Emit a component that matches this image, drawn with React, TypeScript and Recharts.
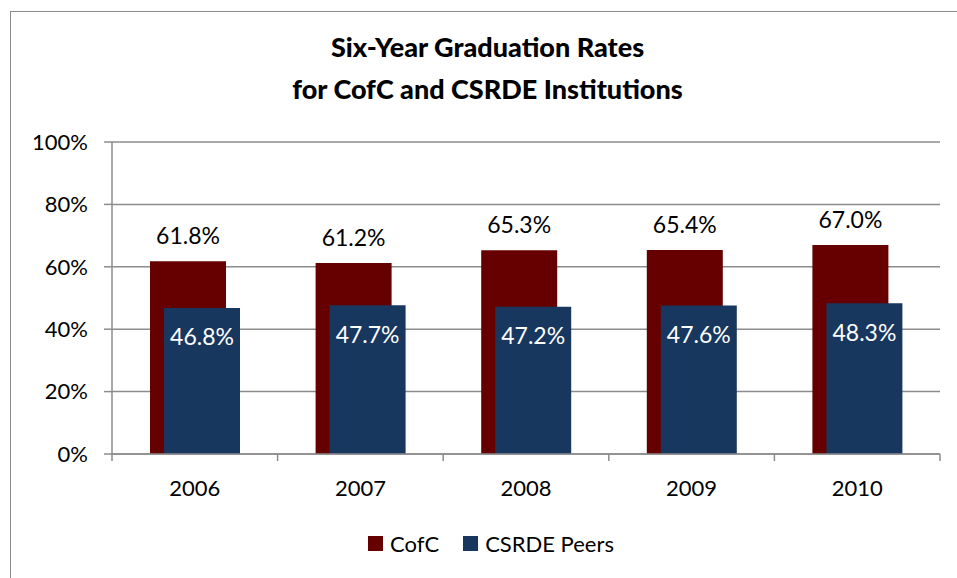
import { BarChart, Bar, XAxis, YAxis, CartesianGrid, Legend, LabelList } from "recharts"

const years = ["2006", "2007", "2008", "2009", "2010"]
const cofcRates = [61.8, 61.2, 65.3, 65.4, 67.0]
const peerRates = [46.8, 47.7, 47.2, 47.6, 48.3]
const yTicks = [0, 20, 40, 60, 80, 100]

const data = years.map((year, i) => ({ year, cofc: cofcRates[i], peers: peerRates[i] }))

const FONT = "Lato, 'Open Sans', sans-serif"
const RED = "#660000"
const BLUE = "#17375e"
const GRID = "#8c8c8c"

const W = 957
const H = 578
const margin = { top: 142, right: 17, left: 12, bottom: 10 }
const Y_WIDTH = 100
const plotWidth = W - margin.left - margin.right - Y_WIDTH
const band = plotWidth / years.length

// year label at the centre, tick marks at category edges (Excel style)
const YearTick = (props: any) => {
  const { x, y, payload, index } = props
  const left = x - band / 2
  const right = x + band / 2
  return (
    <g>
      <line x1={left} y1={y - 8} x2={left} y2={y - 1} stroke={GRID} strokeWidth={1.5} />
      {index === years.length - 1 && (
        <line x1={right} y1={y - 8} x2={right} y2={y - 1} stroke={GRID} strokeWidth={1.5} />
      )}
      <text x={x} y={y + 34} textAnchor="middle" fontSize={22} fill="#000" fontFamily={FONT}>
        {payload.value}
      </text>
    </g>
  )
}

const LegendContent = () => (
  <div
    style={{
      display: "flex",
      alignItems: "center",
      height: 50,
      paddingLeft: 356,
      fontFamily: FONT,
      fontSize: 22,
      color: "#000",
    }}
  >
    <span style={{ width: 15, height: 15, background: RED, display: "inline-block", marginRight: 7 }} />
    <span style={{ marginRight: 24 }}>CofC</span>
    <span style={{ width: 15, height: 15, background: BLUE, display: "inline-block", marginRight: 7 }} />
    <span>CSRDE Peers</span>
  </div>
)

export default function App() {
  return (
    <div
      style={{
        position: "absolute",
        left: 0,
        top: 0,
        width: W,
        height: H,
        background: "#fff",
        overflow: "hidden",
      }}
    >
      {/* chart frame */}
      <div
        style={{
          position: "absolute",
          left: 10,
          top: 11,
          width: 1000,
          height: 1000,
          border: "1.5px solid #8c8c8c",
        }}
      />
      <div
        style={{
          position: "absolute",
          left: 0,
          top: 26,
          width: 975,
          textAlign: "center",
          fontFamily: FONT,
          fontWeight: 900,
          fontSize: 27,
          lineHeight: "42px",
          color: "#000",
        }}
      >
        Six-Year Graduation Rates
        <br />
        for CofC and CSRDE Institutions
      </div>
      <div style={{ position: "absolute", left: 0, top: 0 }}>
        <BarChart width={W} height={H} data={data} margin={margin} barSize={76} barGap={-62}>
          <CartesianGrid vertical={false} stroke={GRID} strokeWidth={1.5} />
          <XAxis
            dataKey="year"
            height={64}
            stroke={GRID}
            strokeWidth={1.5}
            tickLine={false}
            tick={<YearTick />}
            interval={0}
          />
          <YAxis
            width={Y_WIDTH}
            domain={[0, 100]}
            ticks={yTicks}
            tickFormatter={(v: number) => `${v}%`}
            stroke={GRID}
            strokeWidth={1.5}
            tickSize={8}
            tickMargin={16}
            tick={{ fontSize: 22, fill: "#000", fontFamily: FONT }}
          />
          <Legend verticalAlign="bottom" height={50} content={<LegendContent />} />
          <Bar dataKey="cofc" name="CofC" fill={RED} isAnimationActive={false}>
            <LabelList
              dataKey="cofc"
              position="top"
              offset={17}
              formatter={(v: number) => `${v.toFixed(1)}%`}
              style={{ fontSize: 23, fill: "#000", fontFamily: FONT }}
            />
          </Bar>
          <Bar dataKey="peers" name="CSRDE Peers" fill={BLUE} isAnimationActive={false}>
            <LabelList
              dataKey="peers"
              position="insideTop"
              offset={21}
              formatter={(v: number) => `${v.toFixed(1)}%`}
              style={{ fontSize: 23, fill: "#fff", fontFamily: FONT }}
            />
          </Bar>
        </BarChart>
      </div>
    </div>
  )
}
